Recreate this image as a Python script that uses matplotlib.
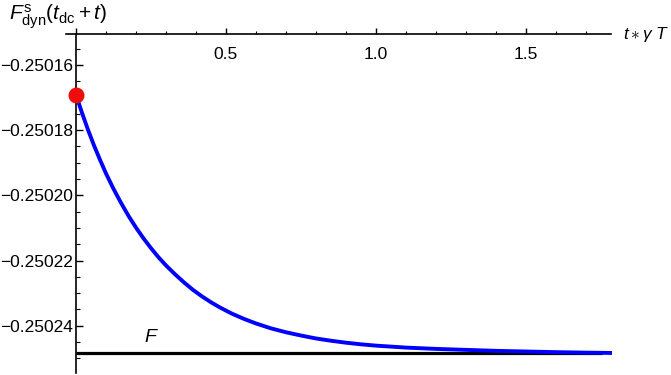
import matplotlib.pyplot as plt
from matplotlib.ticker import MultipleLocator, FuncFormatter

plt.rcParams['font.family'] = ['Liberation Sans', 'DejaVu Sans']
plt.rcParams['mathtext.fontset'] = 'custom'
plt.rcParams['mathtext.rm'] = 'Liberation Sans'
plt.rcParams['mathtext.it'] = 'Liberation Sans:italic'

# curve (t in units of 1/(gamma T))
t_vals = [0.0, 0.02, 0.04, 0.06, 0.08, 0.10, 0.125, 0.15, 0.175, 0.20, 0.225,
          0.25, 0.275, 0.30, 0.33, 0.36, 0.39, 0.42, 0.45, 0.48, 0.52, 0.56,
          0.60, 0.65, 0.70, 0.75, 0.80, 0.85, 0.90, 0.95, 1.0, 1.1, 1.2, 1.3,
          1.4, 1.5, 1.6, 1.7, 1.787]
# offset above the F level, in units of 1e-5
d_vals = [7.93, 7.38, 6.86, 6.38, 5.94, 5.52, 5.05, 4.62, 4.22, 3.86, 3.53,
          3.23, 2.95, 2.70, 2.43, 2.18, 1.95, 1.75, 1.57, 1.41, 1.22, 1.06,
          0.92, 0.77, 0.65, 0.55, 0.46, 0.39, 0.33, 0.28, 0.24, 0.18, 0.14, 0.11,
          0.08, 0.06, 0.04, 0.025, 0.015]
F_level = -0.2502485
F_end = 1.753
start_point = (0.0, -0.2501692)

f_vals = [F_level + d * 1e-5 for d in d_vals]

fig = plt.figure(figsize=(6.71, 3.75), dpi=100)
ax = fig.add_axes([0.1133, 0.0053, 0.797, 0.904])

ax.plot([0, F_end], [F_level, F_level], color='black', lw=2.3, solid_capstyle='butt')
ax.plot(t_vals, f_vals, color=(0, 0, 1), lw=2.8, clip_on=False, solid_capstyle='butt')
ax.plot(*start_point, 'o', color=(0.93, 0.05, 0.05), ms=10.5, clip_on=False, zorder=5)
ax.text(0.25, -0.2502437, r'$F$', fontsize=14, ha='center', va='center')

ax.set_xlim(0, 1.783)
ax.set_ylim(-0.2502545, -0.2501505)

for s in ['right', 'bottom']:
    ax.spines[s].set_visible(False)
ax.spines['left'].set_linewidth(1.2)
ax.spines['top'].set_linewidth(1.2)
ax.spines['top'].set_bounds(-0.035, 1.783)

ax.xaxis.set_major_locator(MultipleLocator(0.5))
ax.xaxis.set_minor_locator(MultipleLocator(0.1))
ax.xaxis.set_major_formatter(FuncFormatter(lambda v, p: '' if abs(v) < 1e-9 else f'{v:.1f}'))
ax.tick_params(axis='x', which='both', top=True, bottom=False, labeltop=True,
               labelbottom=False, direction='out', labelsize=12.5)
ax.tick_params(axis='x', which='major', length=4.5, width=1, pad=-25)
ax.tick_params(axis='x', which='minor', length=2.5, width=0.8)

ax.yaxis.set_major_locator(MultipleLocator(0.00002))
ax.yaxis.set_minor_locator(MultipleLocator(0.000005))
ax.yaxis.set_major_formatter(FuncFormatter(lambda v, p: f'{v:.5f}'.replace('-', '\u2212')))
ax.tick_params(axis='y', which='both', direction='in', labelsize=12.5)
ax.tick_params(axis='y', which='major', length=5, width=1, pad=2)
ax.tick_params(axis='y', which='minor', length=3, width=0.8)

fig.text(0.014, 0.955, r'$F^{\rm s}_{\rm dyn}(t_{\rm dc}+t)$', fontsize=15, ha='left', va='center')
fig.text(0.928, 0.909, r'$t\ast\gamma\ T$', fontsize=12.5, ha='left', va='center')

fig.savefig('out.png', dpi=100)
